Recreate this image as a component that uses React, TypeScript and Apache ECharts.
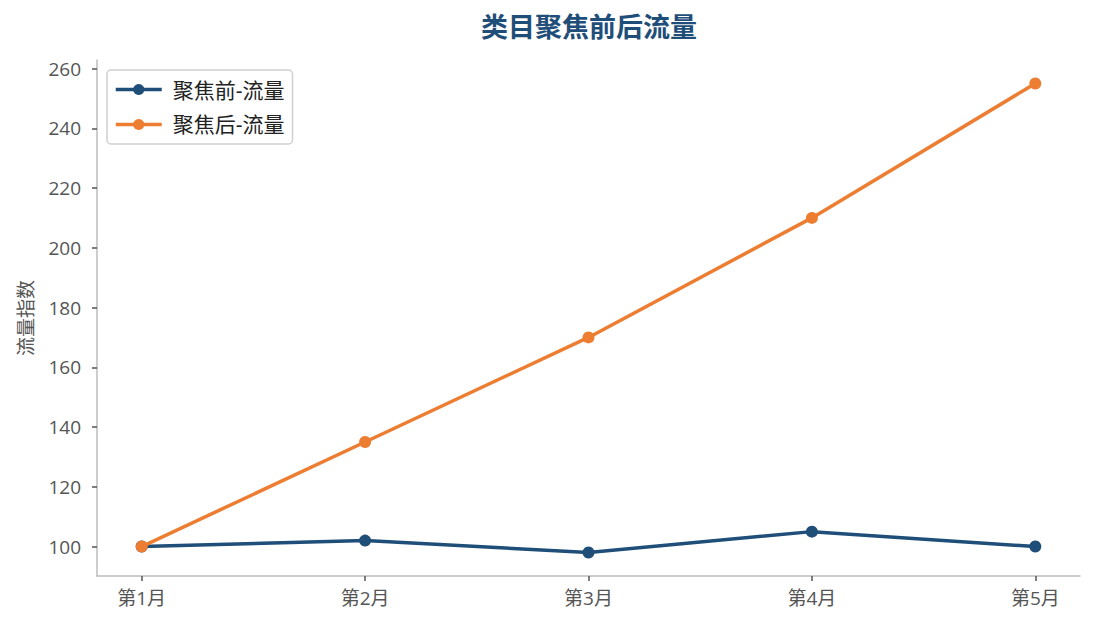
import React, { useEffect, useRef } from 'react';
import * as echarts from 'echarts';

const categories = ['第1月', '第2月', '第3月', '第4月', '第5月'];
const beforeValues = [100, 102, 98, 105, 100];
const afterValues = [100, 135, 170, 210, 255];
const yTicks = [100, 120, 140, 160, 180, 200, 220, 240, 260];

const BLUE = '#1f4e79';
const ORANGE = '#ed7d31';
const FONT = '"Open Sans", "Noto Sans CJK SC", sans-serif';

const App: React.FC = () => {
  const chartRef = useRef<HTMLDivElement>(null);

  useEffect(() => {
    document.body.style.margin = '0';
    if (!chartRef.current) return;
    const chart = echarts.init(chartRef.current, null, { renderer: 'svg' });

    const toPairs = (vals: number[]) => vals.map((v, i) => [i, v]);
    const xIdx = categories.map((_, i) => i);

    const option = {
      animation: false,
      textStyle: { fontFamily: FONT },
      title: {
        text: '类目聚焦前后流量',
        left: 584,
        top: 8,
        textAlign: 'center',
        textStyle: { color: BLUE, fontSize: 27, fontWeight: 'bold', fontFamily: FONT },
      },
      grid: { left: 97, right: 15, top: 60, bottom: 53, containLabel: false },
      legend: {
        orient: 'vertical',
        left: 107,
        top: 70,
        padding: [9, 8, 9, 7],
        itemWidth: 46,
        itemHeight: 14,
        itemGap: 14,
        borderColor: '#d0d0d0',
        borderWidth: 1.5,
        borderRadius: 4,
        backgroundColor: '#fff',
        lineStyle: { width: 3.5 },
        textStyle: { fontSize: 21, color: '#222', fontFamily: FONT, padding: [0, 0, 0, 6] },
        data: ['聚焦前-流量', '聚焦后-流量'],
      },
      xAxis: {
        type: 'value',
        min: -0.2,
        max: 4.2,
        splitLine: { show: false },
        axisLine: { show: true, onZero: false, lineStyle: { color: '#bdbdbd', width: 1.5 } },
        axisTick: {
          show: true,
          length: 5,
          customValues: xIdx,
          lineStyle: { color: '#555', width: 1.5 },
        },
        axisLabel: {
          customValues: xIdx,
          margin: 12,
          fontSize: 19,
          color: '#555',
          fontFamily: FONT,
          formatter: (v: number) => categories[Math.round(v)] ?? '',
        },
      },
      yAxis: {
        type: 'value',
        min: 90.15,
        max: 262.85,
        name: '流量指数',
        nameLocation: 'middle',
        nameGap: 62,
        nameTextStyle: { fontSize: 19, color: '#555', fontFamily: FONT },
        splitLine: { show: false },
        axisLine: { show: true, onZero: false, lineStyle: { color: '#bdbdbd', width: 1.5 } },
        axisTick: {
          show: true,
          length: 5,
          customValues: yTicks,
          lineStyle: { color: '#555', width: 1.5 },
        },
        axisLabel: {
          customValues: yTicks,
          margin: 16,
          fontSize: 19,
          color: '#555',
          fontFamily: FONT,
        },
      },
      series: [
        {
          name: '聚焦前-流量',
          type: 'line',
          data: toPairs(beforeValues),
          symbol: 'circle',
          symbolSize: 12,
          lineStyle: { color: BLUE, width: 3.5 },
          itemStyle: { color: BLUE },
          z: 2,
        },
        {
          name: '聚焦后-流量',
          type: 'line',
          data: toPairs(afterValues),
          symbol: 'circle',
          symbolSize: 12,
          lineStyle: { color: ORANGE, width: 3.5 },
          itemStyle: { color: ORANGE },
          z: 3,
        },
      ],
    };

    chart.setOption(option);

    return () => {
      chart.dispose();
    };
  }, []);

  return <div ref={chartRef} style={{ width: 1095, height: 629 }} />;
};

export default App;
